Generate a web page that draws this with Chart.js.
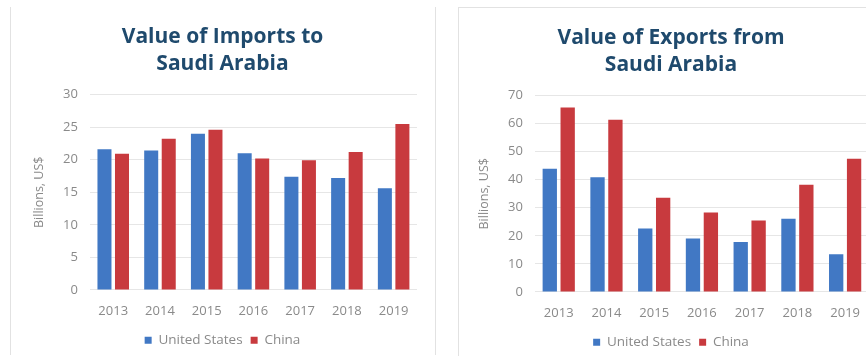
<!DOCTYPE html>
<html>
<head>
<meta charset="utf-8">
<script src="https://cdn.jsdelivr.net/npm/chart.js@4"></script>
<style>
  html, body { margin: 0; padding: 0; background: #fff; overflow: hidden; }
  body { width: 866px; height: 361px; position: relative; }
  .panel { position: absolute; top: 7px; height: 348px; width: 424px; }
  .panel canvas { position: absolute; left: 0; top: 0; }
  #left { left: 10px; border-left: 1px solid #e2e2e2; border-right: 1px solid #e2e2e2; }
  #right { left: 458px; border-left: 1px solid #e2e2e2; border-top: 1px solid #e2e2e2; }
</style>
</head>
<body>
<div class="panel" id="left"><canvas id="importsChart" width="424" height="350"></canvas></div>
<div class="panel" id="right"><canvas id="exportsChart" width="424" height="351"></canvas></div>
<script>
// --- DATA ---
const years = ['2013', '2014', '2015', '2016', '2017', '2018', '2019'];
const importsUS = [21.6, 21.4, 24.0, 21.0, 17.4, 17.2, 15.6];
const importsChina = [20.9, 23.2, 24.6, 20.2, 19.9, 21.2, 25.5];
const exportsUS = [43.9, 40.9, 22.6, 19.0, 17.8, 26.1, 13.4];
const exportsChina = [65.8, 61.4, 33.6, 28.3, 25.5, 38.2, 47.5];

const BLUE = '#4178c4';
const RED = '#c83a3e';
const GREY = '#8a8a8a';

function makeChart(id, title, us, china, max, step, pad) {
    const ctx = document.getElementById(id);
    return new Chart(ctx, {
        type: 'bar',
        data: {
            labels: years,
            datasets: [
                { label: 'United States', data: us, backgroundColor: BLUE, barPercentage: 0.8, categoryPercentage: 0.75 },
                { label: 'China', data: china, backgroundColor: RED, barPercentage: 0.8, categoryPercentage: 0.75 }
            ]
        },
        options: {
            responsive: false,
            animation: false,
            layout: { padding: pad },
            plugins: {
                title: {
                    display: true,
                    text: title,
                    color: '#1f4a6d',
                    font: { family: 'Open Sans', size: 21, weight: 'bold', lineHeight: 1.3 },
                    padding: { top: 16, bottom: 17 }
                },
                legend: {
                    position: 'bottom',
                    labels: {
                        boxWidth: 7, boxHeight: 7, color: GREY,
                        font: { family: 'Open Sans', size: 13.5 },
                        padding: 8
                    }
                },
                tooltip: { enabled: false }
            },
            scales: {
                x: {
                    grid: { display: false },
                    border: { display: false },
                    ticks: { color: GREY, font: { family: 'Open Sans', size: 13 }, padding: 6 }
                },
                y: {
                    min: 0, max: max,
                    ticks: { stepSize: step, color: GREY, font: { family: 'Open Sans', size: 13 }, padding: 12 },
                    grid: { color: '#e6e6e6', drawTicks: false },
                    border: { display: false },
                    title: {
                        display: true, text: 'Billions, US$', color: GREY,
                        font: { family: 'Open Sans', size: 12.5 }, padding: 4
                    }
                }
            }
        }
    });
}

makeChart('importsChart', ['Value of Imports to', 'Saudi Arabia'], importsUS, importsChina, 30, 5,
    { left: 17, right: 18, bottom: 0 });
makeChart('exportsChart', ['Value of Exports from', 'Saudi Arabia'], exportsUS, exportsChina, 70, 10,
    { left: 14, right: 14, bottom: 0 });
</script>
</body>
</html>
